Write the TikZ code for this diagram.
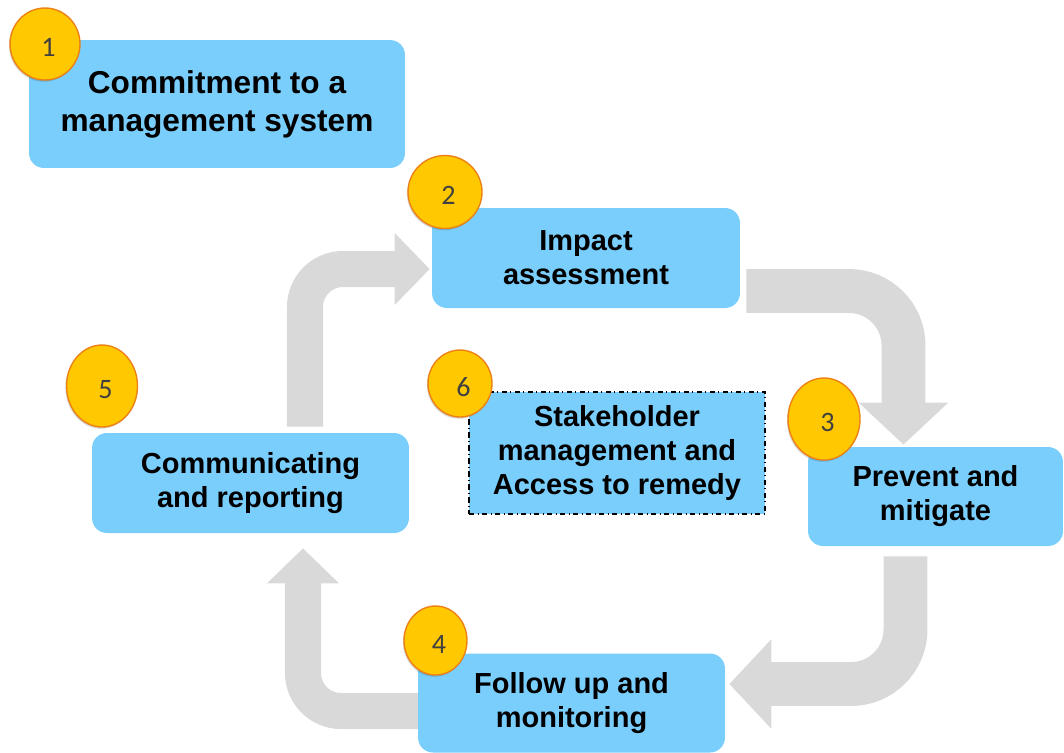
\documentclass[tikz,border=0pt]{standalone}
\usepackage{fontspec}
\setmainfont{Liberation Sans}
\newfontfamily\numfont{Carlito}
\usetikzlibrary{arrows.meta,shapes.geometric,calc,shadows,backgrounds}
\definecolor{boxblue}{RGB}{122,206,252}
\definecolor{arrowgray}{RGB}{217,217,217}
\definecolor{dotyellow}{RGB}{255,200,0}
\definecolor{dotorange}{RGB}{237,130,20}
\definecolor{numgray}{RGB}{64,64,64}

\begin{document}
\begin{tikzpicture}[x=0.02cm,y=-0.02cm,
  stepbox/.style={fill=boxblue,rounded corners=8.5pt,align=center,inner sep=0pt,
    font=\fontsize{16.5}{19.3}\selectfont\bfseries},
  numdot/.style={ellipse,fill=dotyellow,draw=dotorange,line width=0.8pt,inner sep=0pt,
    drop shadow={shadow xshift=-0.6pt,shadow yshift=-1pt,opacity=0.15,fill=black}},
  numtext/.style={font=\numfont\fontsize{16}{16}\selectfont,text=numgray,xshift=2pt,yshift=-2pt},
  bandR/.style={arrowgray,line width=25pt,rounded corners=31pt,-{Triangle[length=23.9pt,width=49.5pt]}},
  bandL/.style={arrowgray,line width=20.5pt,rounded corners=21.6pt,-{Triangle[length=20pt,width=40pt]}}]
\useasboundingbox (0,0) rectangle (1064,752);

% Steps
\node[stepbox,minimum width=7.52cm,minimum height=2.56cm,font=\fontsize{18}{21.6}\selectfont\bfseries]
  (commit) at (217,104) {Commitment to a\\management system};
\node[stepbox,minimum width=6.16cm,minimum height=2.0cm] (impact) at (586,258) {Impact\\assessment};
\node[stepbox,minimum width=5.1cm,minimum height=1.98cm] (prevent) at (935.5,496.5) {Prevent and\\mitigate};
\node[stepbox,minimum width=6.14cm,minimum height=1.98cm] (follow) at (571.5,703) {Follow up and\\monitoring};
\node[stepbox,minimum width=6.34cm,minimum height=2.0cm] (report) at (250.5,483) {Communicating\\and reporting};
\node[stepbox,rounded corners=0pt,draw=black,dash dot,line width=0.7pt,minimum width=5.92cm,minimum height=2.44cm]
  (remedy) at (617,453) {Stakeholder\\management and\\Access to remedy};

% Cycle arrows
\begin{scope}[on background layer]
\draw[bandR] ($(impact.east)+(6,33)$) -| ($(prevent.north)+(-32,-2)$);
\draw[bandR] ($(prevent.south)+(-30,10)$) |- ($(follow.east)+(4,-19)$);
\draw[bandL] ($(follow.west)+(10,8)$) -| ($(report.south)+(52.5,15)$);
\draw[bandL] ($(report.north)+(54.5,-6)$) |- ($(impact.west)+(-2,11)$);
\end{scope}

% Numbers
\node[numdot,minimum width=1.40cm,minimum height=1.44cm,label={[numtext]center:1}] (n1) at (45,44) {};
\node[numdot,minimum width=1.48cm,minimum height=1.46cm,label={[numtext]center:2}] (n2) at (445,192) {};
\node[numdot,minimum width=1.44cm,minimum height=1.64cm,label={[numtext]center:3}] (n3) at (824,419) {};
\node[numdot,minimum width=1.26cm,minimum height=1.38cm,label={[numtext]center:4}] (n4) at (435.5,640.5) {};
\node[numdot,minimum width=1.42cm,minimum height=1.64cm,label={[numtext]center:5}] (n5) at (102,386) {};
\node[numdot,minimum width=1.28cm,minimum height=1.34cm,label={[numtext]center:6}] (n6) at (460,383.5) {};
\end{tikzpicture}
\end{document}
